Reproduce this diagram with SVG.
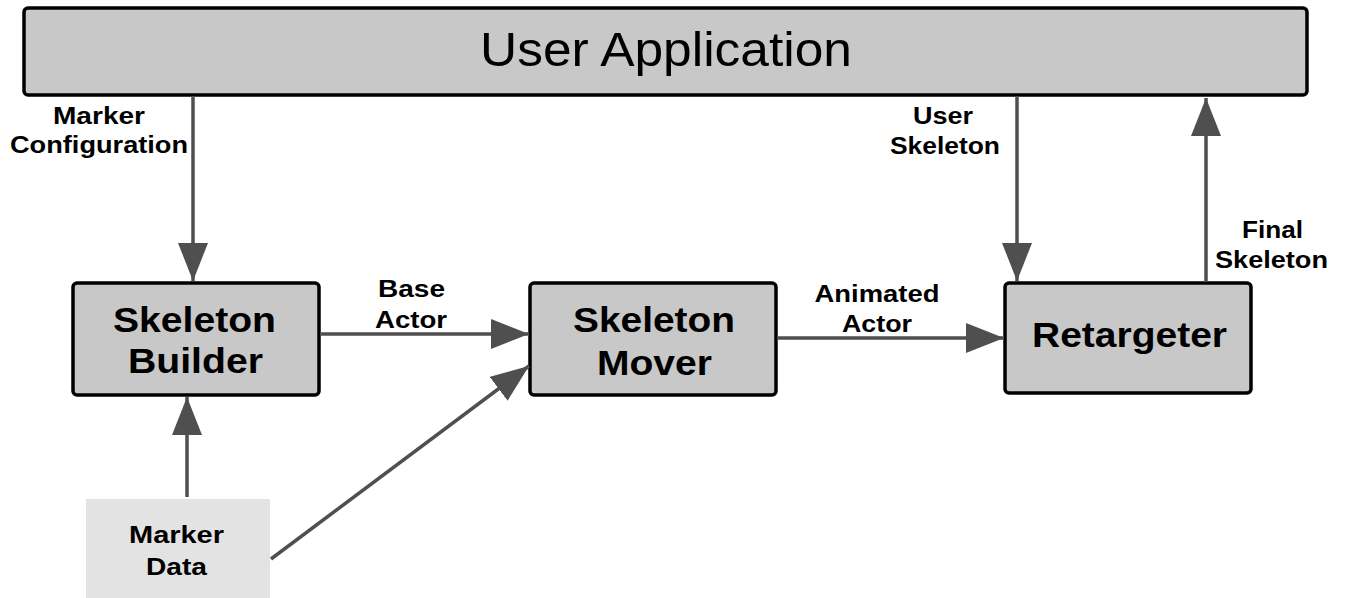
<svg xmlns="http://www.w3.org/2000/svg" width="1345" height="598" viewBox="0 0 1345 598">
<style>
.box{fill:#c8c8c8;stroke:#000;stroke-width:3.5}
.data{fill:#e3e3e3;stroke:none}
.conn{stroke:#4f4f4f;stroke-width:3.5;fill:none}
.big{font-family:"Liberation Sans",Arial,sans-serif;font-size:48px;fill:#000}
.lbl{font-family:"Liberation Sans",Arial,sans-serif;font-weight:bold;font-size:35px;fill:#000;text-anchor:middle}
.sm{font-family:"Liberation Sans",Arial,sans-serif;font-weight:bold;font-size:23px;fill:#000;text-anchor:middle}
</style>
<defs>
<marker id="ah" markerUnits="userSpaceOnUse" markerWidth="40" markerHeight="32" refX="38" refY="15" orient="auto">
<path d="M0,0 L38,15 L0,30 Z" fill="#4f4f4f"/>
</marker>
</defs>
<rect width="1345" height="598" fill="#fff"/>
<g id="user-application">
<rect class="box" x="24" y="8" width="1283" height="87" rx="4"/>
<text class="big" x="480" y="66" textLength="372" lengthAdjust="spacingAndGlyphs">User Application</text>
</g>
<g id="skeleton-builder">
<rect class="box" x="73" y="283" width="246" height="112" rx="4"/>
<text class="lbl" x="194.5" y="332" textLength="163" lengthAdjust="spacingAndGlyphs">Skeleton</text>
<text class="lbl" x="195.5" y="373" textLength="135" lengthAdjust="spacingAndGlyphs">Builder</text>
</g>
<g id="skeleton-mover">
<rect class="box" x="530" y="283" width="246" height="112" rx="4"/>
<text class="lbl" x="654" y="332" textLength="162" lengthAdjust="spacingAndGlyphs">Skeleton</text>
<text class="lbl" x="654.5" y="375" textLength="115" lengthAdjust="spacingAndGlyphs">Mover</text>
</g>
<g id="retargeter">
<rect class="box" x="1005" y="283" width="246" height="110" rx="4"/>
<text class="lbl" x="1129.5" y="347" textLength="195" lengthAdjust="spacingAndGlyphs">Retargeter</text>
</g>
<g id="marker-data">
<rect class="data" x="86" y="499" width="184" height="99"/>
<text class="sm" x="176.5" y="543" textLength="95" lengthAdjust="spacingAndGlyphs">Marker</text>
<text class="sm" x="176.5" y="575" textLength="61" lengthAdjust="spacingAndGlyphs">Data</text>
</g>
<g id="connectors">
<line class="conn" x1="193" y1="96" x2="193" y2="281" marker-end="url(#ah)"/>
<line class="conn" x1="1017" y1="96" x2="1017" y2="281" marker-end="url(#ah)"/>
<line class="conn" x1="1206" y1="282" x2="1206" y2="98" marker-end="url(#ah)"/>
<line class="conn" x1="320" y1="334" x2="529" y2="334" marker-end="url(#ah)"/>
<line class="conn" x1="777" y1="338" x2="1004" y2="338" marker-end="url(#ah)"/>
<line class="conn" x1="187" y1="497" x2="187" y2="397" marker-end="url(#ah)"/>
<line class="conn" x1="271" y1="559" x2="529" y2="366" marker-end="url(#ah)"/>
<text class="sm" x="99" y="124" textLength="92" lengthAdjust="spacingAndGlyphs">Marker</text>
<text class="sm" x="99" y="153" textLength="178" lengthAdjust="spacingAndGlyphs">Configuration</text>
<text class="sm" x="943" y="124" textLength="60" lengthAdjust="spacingAndGlyphs">User</text>
<text class="sm" x="945" y="154" textLength="110" lengthAdjust="spacingAndGlyphs">Skeleton</text>
<text class="sm" x="1272.5" y="238" textLength="61" lengthAdjust="spacingAndGlyphs">Final</text>
<text class="sm" x="1271.5" y="268" textLength="113" lengthAdjust="spacingAndGlyphs">Skeleton</text>
<text class="sm" x="411.5" y="297" textLength="67" lengthAdjust="spacingAndGlyphs">Base</text>
<text class="sm" x="411" y="328" textLength="72" lengthAdjust="spacingAndGlyphs">Actor</text>
<text class="sm" x="877" y="302" textLength="125" lengthAdjust="spacingAndGlyphs">Animated</text>
<text class="sm" x="877" y="332" textLength="70" lengthAdjust="spacingAndGlyphs">Actor</text>
</g>
</svg>
